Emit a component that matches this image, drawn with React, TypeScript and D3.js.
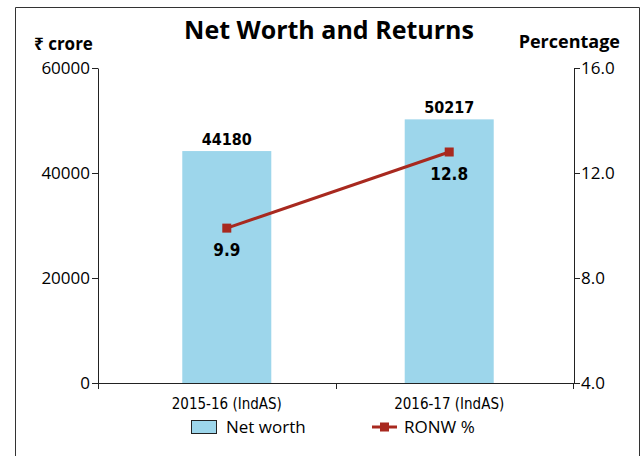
import React, { useEffect, useRef } from "react";
import * as d3 from "d3";

const years = ["2015-16 (IndAS)", "2016-17 (IndAS)"];
const netWorth = [44180, 50217];
const ronw = [9.9, 12.8];
const leftTicks = [0, 20000, 40000, 60000];
const rightTicks = [4.0, 8.0, 12.0, 16.0];

const cond = "'DejaVu Sans Condensed', 'DejaVu Sans', sans-serif";
const sans = "'Open Sans', 'Noto Sans', sans-serif";

export default function App() {
  const svgRef = useRef<SVGSVGElement>(null);
  const width = 643;
  const height = 456;

  useEffect(() => {
    const svg = d3.select(svgRef.current);
    svg.selectAll("*").remove();

    const margin = { top: 68, right: 69, bottom: 73, left: 98 };
    const x0 = margin.left;
    const x1 = width - margin.right;
    const yBase = height - margin.bottom;

    // frame
    svg
      .append("path")
      .attr("d", `M15.5,${height}V7.5H639.5V${height}`)
      .attr("fill", "none")
      .attr("stroke", "#333")
      .attr("stroke-width", 1);

    const x = d3.scalePoint<string>().domain(years).range([x0 + 2, x1 + 2]).padding(0.57);
    const barW = 89;

    const yL = d3.scaleLinear().domain([0, 60000]).range([yBase, margin.top]);
    const yR = d3.scaleLinear().domain([4, 16]).range([yBase, margin.top]);

    // bars
    svg
      .selectAll("rect.bar")
      .data(netWorth)
      .join("rect")
      .attr("class", "bar")
      .attr("x", (_, i) => (x(years[i]) as number) - barW / 2)
      .attr("y", (d) => yL(d))
      .attr("width", barW)
      .attr("height", (d) => yBase - yL(d))
      .attr("fill", "#9dd6eb");

    // bar labels
    svg
      .selectAll("text.barlab")
      .data(netWorth)
      .join("text")
      .attr("class", "barlab")
      .attr("x", (_, i) => x(years[i]) as number)
      .attr("y", (d) => yL(d) - 6)
      .attr("text-anchor", "middle")
      .style("font-family", cond)
      .style("font-weight", "bold")
      .style("font-size", "16px")
      .text((d) => d);

    // left axis
    const gL = svg
      .append("g")
      .attr("transform", `translate(${x0},0)`)
      .call(d3.axisLeft(yL).tickValues(leftTicks).tickSize(6).tickSizeOuter(0).tickFormat(d3.format("d")));
    gL.select(".domain").attr("stroke", "#222");
    gL.selectAll("line").attr("stroke", "#222");
    gL.selectAll("text")
      .style("font-family", sans)
      .style("font-size", "17px")
      .attr("fill", "#000")
      .attr("x", -8);

    // right axis
    const gR = svg
      .append("g")
      .attr("transform", `translate(${x1},0)`)
      .call(d3.axisRight(yR).tickValues(rightTicks).tickSize(6).tickSizeOuter(0).tickFormat(d3.format(".1f")));
    gR.select(".domain").attr("stroke", "#222");
    gR.selectAll("line").attr("stroke", "#222");
    gR.selectAll("text")
      .style("font-family", sans)
      .style("font-size", "17px")
      .attr("fill", "#000")
      .attr("x", 7);

    // x axis
    svg
      .append("line")
      .attr("x1", x0)
      .attr("x2", x1)
      .attr("y1", yBase + 0.5)
      .attr("y2", yBase + 0.5)
      .attr("stroke", "#222");
    const mid = Math.round((x0 + x1) / 2) + 0.5;
    [x0 + 0.5, mid, x1 - 0.5].forEach((tx) => {
      svg
        .append("line")
        .attr("x1", tx)
        .attr("x2", tx)
        .attr("y1", yBase)
        .attr("y2", yBase + 6)
        .attr("stroke", "#222");
    });
    svg
      .selectAll("text.xlab")
      .data(years)
      .join("text")
      .attr("class", "xlab")
      .attr("x", (d) => x(d) as number)
      .attr("y", yBase + 26)
      .attr("text-anchor", "middle")
      .style("font-family", cond)
      .style("font-size", "15px")
      .attr("fill", "#000")
      .text((d) => d);

    // RONW line
    const red = "#a8291f";
    const line = d3
      .line<number>()
      .x((_, i) => x(years[i]) as number)
      .y((d) => yR(d));
    svg
      .append("path")
      .datum(ronw)
      .attr("d", line)
      .attr("fill", "none")
      .attr("stroke", red)
      .attr("stroke-width", 3);
    svg
      .selectAll("rect.mk")
      .data(ronw)
      .join("rect")
      .attr("class", "mk")
      .attr("x", (_, i) => (x(years[i]) as number) - 4.5)
      .attr("y", (d) => yR(d) - 4.5)
      .attr("width", 9)
      .attr("height", 9)
      .attr("fill", red);
    svg
      .selectAll("text.rlab")
      .data(ronw)
      .join("text")
      .attr("class", "rlab")
      .attr("x", (_, i) => x(years[i]) as number)
      .attr("y", (d) => yR(d) + 28)
      .attr("text-anchor", "middle")
      .style("font-family", cond)
      .style("font-weight", "bold")
      .style("font-size", "17px")
      .text((d) => d.toFixed(1));

    // title & axis titles
    svg
      .append("text")
      .attr("x", 329)
      .attr("y", 39)
      .attr("text-anchor", "middle")
      .style("font-family", sans)
      .style("font-weight", "bold")
      .style("font-size", "25px")
      .text("Net Worth and Returns");
    svg
      .append("text")
      .attr("x", 34)
      .attr("y", 50)
      .style("font-family", sans)
      .style("font-weight", "bold")
      .style("font-size", "17px")
      .text("₹ crore");
    svg
      .append("text")
      .attr("x", 620)
      .attr("y", 48)
      .attr("text-anchor", "end")
      .style("font-family", sans)
      .style("font-weight", "bold")
      .style("font-size", "18px")
      .text("Percentage");

    // legend
    svg
      .append("rect")
      .attr("x", 191.5)
      .attr("y", 420.5)
      .attr("width", 25)
      .attr("height", 13)
      .attr("fill", "#9dd6eb")
      .attr("stroke", "#222");
    svg
      .append("text")
      .attr("x", 226)
      .attr("y", 433)
      .style("font-family", sans)
      .style("font-size", "17px")
      .text("Net worth");
    svg
      .append("line")
      .attr("x1", 372)
      .attr("x2", 397)
      .attr("y1", 427)
      .attr("y2", 427)
      .attr("stroke", red)
      .attr("stroke-width", 3);
    svg
      .append("rect")
      .attr("x", 380)
      .attr("y", 422.5)
      .attr("width", 9)
      .attr("height", 9)
      .attr("fill", red);
    svg
      .append("text")
      .attr("x", 404)
      .attr("y", 433)
      .style("font-family", sans)
      .style("font-size", "17px")
      .text("RONW %");
  }, []);

  return (
    <svg
      ref={svgRef}
      width={width}
      height={height}
      style={{ position: "absolute", left: 0, top: 0, background: "#fff" }}
    ></svg>
  );
}
